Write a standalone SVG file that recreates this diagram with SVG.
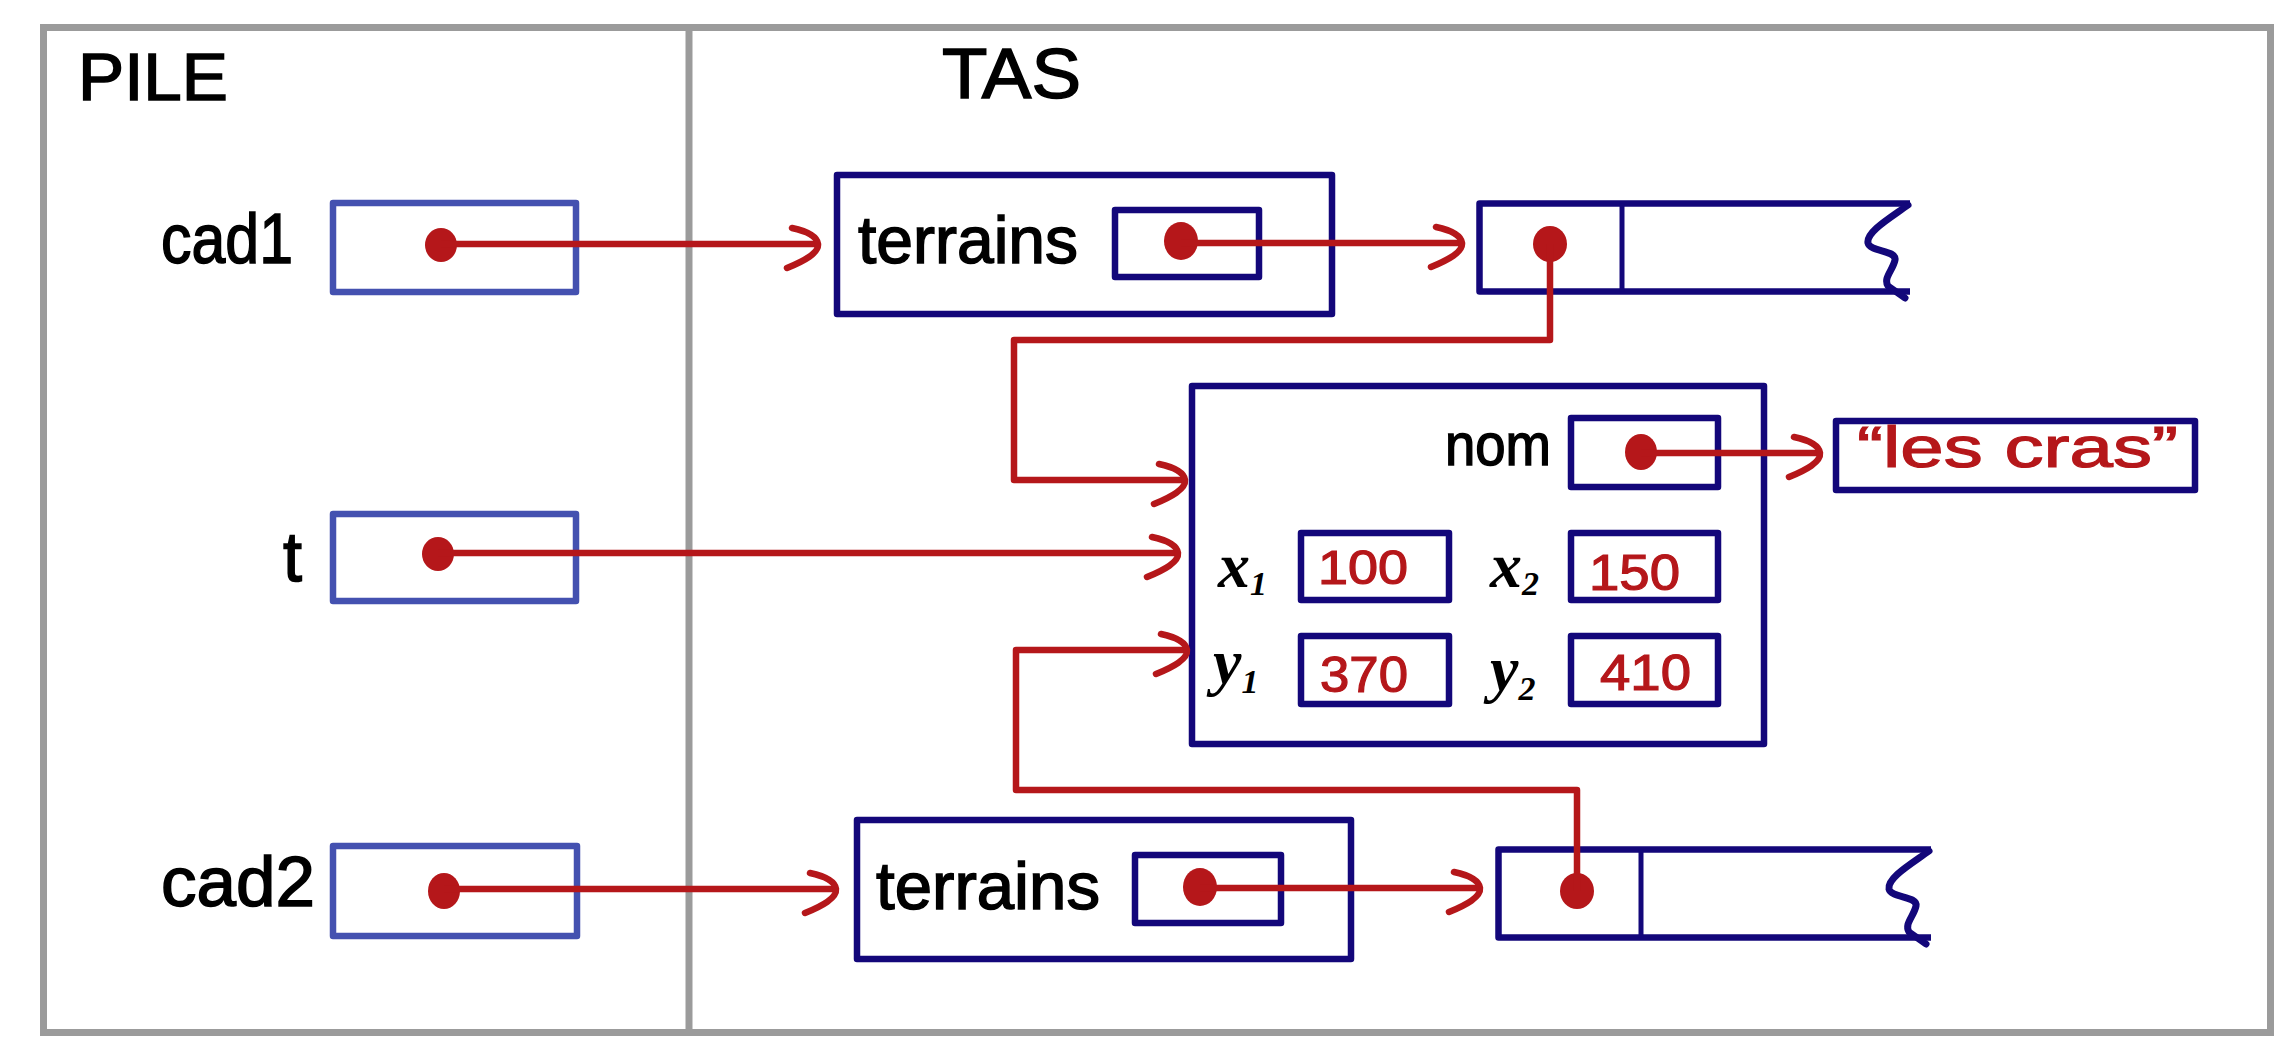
<svg xmlns="http://www.w3.org/2000/svg" width="2288" height="1050" viewBox="0 0 2288 1050">
<style>
.frame{fill:none;stroke:#9b9b9b;stroke-width:7}
.stk{fill:none;stroke:#4451b0;stroke-width:6.5;stroke-linejoin:round}
.heap{fill:none;stroke:#13077a;stroke-width:6.5;stroke-linejoin:round}
.thin{fill:none;stroke:#13077a;stroke-width:5}
.wave{fill:none;stroke:#13077a;stroke-width:7;stroke-linecap:round;stroke-linejoin:round}
.ptr{fill:none;stroke:#b5171a;stroke-width:6.5;stroke-linejoin:round}
.dot{fill:#b5171a}
.hw{font-family:"Liberation Sans","DejaVu Sans",sans-serif;font-weight:normal;fill:#000;stroke:#000;stroke-width:1.5}
.val{font-family:"Liberation Sans","DejaVu Sans",sans-serif;font-weight:normal;fill:#b5171a;stroke:#b5171a;stroke-width:1.2}
.math{font-family:"Liberation Serif","DejaVu Serif",serif;font-style:italic;font-weight:bold;fill:#000}
</style>
<defs>
<marker id="arr" markerUnits="userSpaceOnUse" viewBox="-40 -30 50 60" markerWidth="50" markerHeight="60" refX="0" refY="0" orient="auto" overflow="visible">
<path d="M-26,-16 C-12,-13 -1,-8 0,0 C1,9 -14,17 -31,24" fill="none" stroke="#b5171a" stroke-width="6.5" stroke-linecap="round" stroke-linejoin="round"/>
</marker>
</defs>
<rect width="2288" height="1050" fill="#fff"/>
<g id="frame">
<rect class="frame" x="43.5" y="27.5" width="2227" height="1005"/>
<line class="frame" x1="689" y1="27.5" x2="689" y2="1032.5" stroke-width="6"/>
<text class="hw" x="78" y="100" font-size="66" textLength="150" lengthAdjust="spacingAndGlyphs">PILE</text>
<text class="hw" x="942" y="98" font-size="70" textLength="139" lengthAdjust="spacingAndGlyphs">TAS</text>
</g>
<g id="cad1">
<text class="hw" x="161" y="263" font-size="70" textLength="132" lengthAdjust="spacingAndGlyphs">cad1</text>
<rect class="stk" x="333" y="203" width="243" height="89"/>
<ellipse class="dot" cx="441" cy="245" rx="16" ry="17"/>
</g>
<g id="t">
<text class="hw" x="283" y="581" font-size="70" textLength="19" lengthAdjust="spacingAndGlyphs">t</text>
<rect class="stk" x="333" y="514" width="243" height="87"/>
<ellipse class="dot" cx="438" cy="554" rx="16" ry="17"/>
</g>
<g id="cad2">
<text class="hw" x="161" y="906" font-size="70" textLength="154" lengthAdjust="spacingAndGlyphs">cad2</text>
<rect class="stk" x="333" y="846" width="244" height="90"/>
<ellipse class="dot" cx="444" cy="891" rx="16" ry="18"/>
</g>
<g id="terrains1">
<rect class="heap" x="837" y="175" width="495" height="139"/>
<text class="hw" x="858" y="263" font-size="66" textLength="220" lengthAdjust="spacingAndGlyphs">terrains</text>
<rect class="heap" x="1115" y="210" width="144" height="67"/>
<ellipse class="dot" cx="1181" cy="241" rx="17" ry="19"/>
</g>
<g id="terrains2">
<rect class="heap" x="857" y="820" width="494" height="139"/>
<text class="hw" x="876" y="909" font-size="66" textLength="224" lengthAdjust="spacingAndGlyphs">terrains</text>
<rect class="heap" x="1135" y="855" width="146" height="68"/>
<ellipse class="dot" cx="1200" cy="887" rx="17" ry="19"/>
</g>
<g id="list1">
<path class="heap" d="M1910,203.5 H1479.5 V291.5 H1910"/>
<line class="thin" x1="1622" y1="203.5" x2="1622" y2="291.5"/>
<path class="wave" d="M1908,205 C1890,218 1866,232 1868,243 C1870,252 1897,250 1895,260 C1893,270 1883,278 1888,286 L1905,298"/>
<ellipse class="dot" cx="1550" cy="244" rx="17" ry="18"/>
</g>
<g id="list2">
<path class="heap" d="M1931,849.5 H1498.5 V937.5 H1931"/>
<line class="thin" x1="1641" y1="849.5" x2="1641" y2="937.5"/>
<path class="wave" d="M1929,851 C1911,864 1887,878 1889,889 C1891,898 1918,896 1916,906 C1914,916 1904,924 1909,932 L1926,944"/>
<ellipse class="dot" cx="1577" cy="891" rx="17" ry="18"/>
</g>
<g id="struct">
<rect class="heap" x="1192" y="386" width="572" height="358"/>
<text class="hw" x="1445" y="465" font-size="60" textLength="106" lengthAdjust="spacingAndGlyphs">nom</text>
<rect class="heap" x="1571" y="418" width="147" height="69"/>
<ellipse class="dot" cx="1641" cy="452" rx="16" ry="18"/>
<text class="math" x="1218" y="587" font-size="64">x<tspan font-size="34" dy="8">1</tspan></text>
<rect class="heap" x="1301" y="533" width="148" height="67"/>
<text class="val" x="1318" y="584" font-size="48" textLength="90" lengthAdjust="spacingAndGlyphs">100</text>
<text class="math" x="1490" y="587" font-size="64">x<tspan font-size="34" dy="8">2</tspan></text>
<rect class="heap" x="1571" y="533" width="147" height="67"/>
<text class="val" x="1589" y="590" font-size="50" textLength="91" lengthAdjust="spacingAndGlyphs">150</text>
<text class="math" x="1213" y="683" font-size="64">y<tspan font-size="34" dy="10">1</tspan></text>
<rect class="heap" x="1301" y="636" width="148" height="68"/>
<text class="val" x="1320" y="692" font-size="50" textLength="88" lengthAdjust="spacingAndGlyphs">370</text>
<text class="math" x="1490" y="690" font-size="64">y<tspan font-size="34" dy="10">2</tspan></text>
<rect class="heap" x="1571" y="636" width="147" height="68"/>
<text class="val" x="1600" y="690" font-size="50" textLength="91" lengthAdjust="spacingAndGlyphs">410</text>
</g>
<g id="str">
<rect class="heap" x="1836" y="421" width="359" height="69"/>
<text class="val" x="1857" y="467" font-size="58" textLength="321" lengthAdjust="spacingAndGlyphs">“les cras”</text>
</g>
<g id="connectors">
<path class="ptr" d="M441,244 H818" marker-end="url(#arr)"/>
<path class="ptr" d="M438,553 H1178" marker-end="url(#arr)"/>
<path class="ptr" d="M444,889 H836" marker-end="url(#arr)"/>
<path class="ptr" d="M1181,243 H1462" marker-end="url(#arr)"/>
<path class="ptr" d="M1200,888 H1480" marker-end="url(#arr)"/>
<path class="ptr" d="M1641,453 H1820" marker-end="url(#arr)"/>
<path class="ptr" d="M1550,244 V340 H1014 V480 H1185" marker-end="url(#arr)"/>
<path class="ptr" d="M1577,891 V790 H1016 V650 H1187" marker-end="url(#arr)"/>
</g>
</svg>
